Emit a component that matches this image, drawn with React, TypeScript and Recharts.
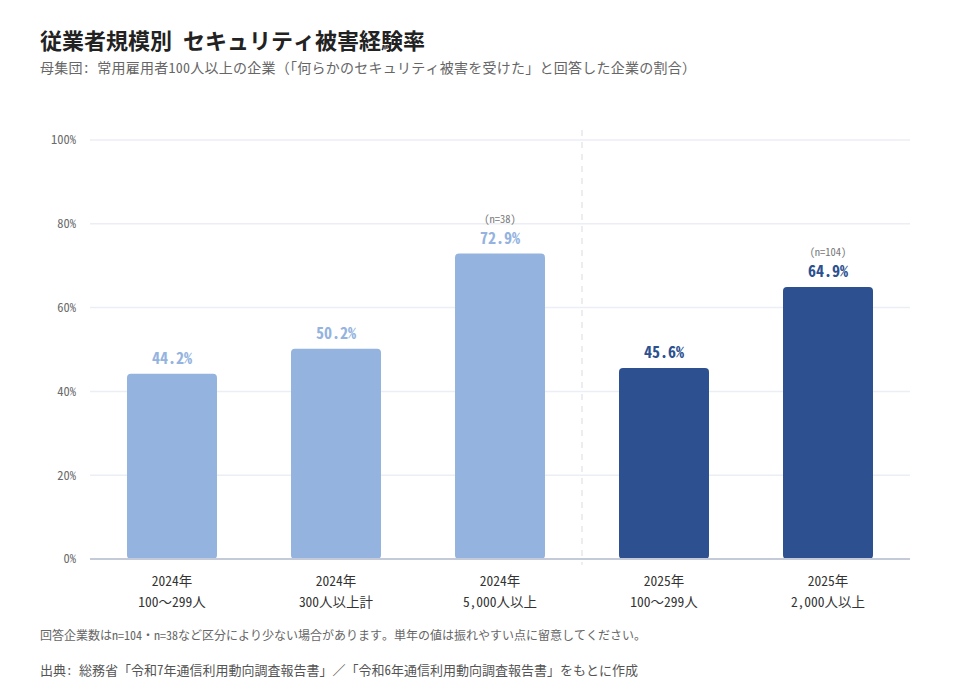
import { BarChart, Bar, Cell, XAxis, YAxis, CartesianGrid, ReferenceLine, LabelList } from "recharts";

const years = ["2024年", "2024年", "2024年", "2025年", "2025年"];
const groups = ["100～299人", "300人以上計", "5,000人以上", "100～299人", "2,000人以上"];
const rates = [44.2, 50.2, 72.9, 45.6, 64.9];
const sampleNotes = ["", "", "(n=38)", "", "(n=104)"];
const yTicks = [0, 20, 40, 60, 80, 100];

const YEAR_COLORS: Record<string, string> = {
  "2024年": "#94b3df",
  "2025年": "#2d5190",
};

const FONT = '"Noto Sans Mono CJK JP", "Noto Sans CJK JP", sans-serif';

const data = years.map((year, i) => ({
  key: `${year}|${groups[i]}`,
  year,
  group: groups[i],
  rate: rates[i],
  note: sampleNotes[i],
}));

const XTick = ({ x, y, payload }: any) => {
  const [year, group] = String(payload.value).split("|");
  return (
    <g transform={`translate(${x},${y})`}>
      <text x={0} y={0} dy={19} textAnchor="middle" fill="#333" fontSize={13.5} fontFamily={FONT}>
        {year}
      </text>
      <text x={0} y={0} dy={40} textAnchor="middle" fill="#333" fontSize={13.5} fontFamily={FONT}>
        {group}
      </text>
    </g>
  );
};

const BarLabel = (props: any) => {
  const { x, y, width, index } = props;
  const row = data[index];
  const cx = x + width / 2;
  const color = YEAR_COLORS[row.year];
  return (
    <g>
      {row.note && (
        <text x={cx} y={y - 31} textAnchor="middle" fill="#777" fontSize={10.5} fontFamily={FONT}>
          {row.note}
        </text>
      )}
      <text x={cx} y={y - 10} textAnchor="middle" fill={color} fontSize={16} fontWeight="bold" fontFamily={FONT}>
        {row.rate.toFixed(1)}%
      </text>
    </g>
  );
};

export default function App() {
  return (
    <div style={{ position: "relative", width: 980, height: 700, margin: -8, background: "#fff", fontFamily: FONT }}>
      <div style={{ position: "absolute", left: 40, top: 23, fontSize: 22, fontWeight: "bold", color: "#222", whiteSpace: "nowrap" }}>
        従業者規模別 セキュリティ被害経験率
      </div>
      <div style={{ position: "absolute", left: 40, top: 57, fontSize: 14, letterSpacing: 0.25, color: "#666", whiteSpace: "nowrap" }}>
        母集団: 常用雇用者100人以上の企業（「何らかのセキュリティ被害を受けた」と回答した企業の割合）
      </div>
      <div style={{ position: "absolute", left: 0, top: 0 }}>
        <BarChart width={980} height={700} data={data} margin={{ top: 140, right: 70, bottom: 91, left: 30 }} barSize={90}>
          <CartesianGrid vertical={false} stroke="#eceef5" strokeWidth={1.5} />
          <XAxis
            dataKey="key"
            tick={<XTick />}
            tickLine={false}
            axisLine={{ stroke: "#c5cad8", strokeWidth: 2 }}
            height={50}
            interval={0}
          />
          <YAxis
            domain={[0, 100]}
            ticks={yTicks}
            tickFormatter={(v) => `${v}%`}
            tick={{ fill: "#6b6b6b", fontSize: 12.5, fontFamily: FONT }}
            tickLine={false}
            axisLine={false}
            tickMargin={8}
            width={60}
          />
          <ReferenceLine
            segment={[
              { x: data[2].key, y: 102.4 },
              { x: data[2].key, y: -1.4 },
            ]}
            position="end"
            ifOverflow="visible"
            stroke="#e6e7ec"
            strokeWidth={1.5}
            strokeDasharray="6 6"
          />
          <Bar dataKey="rate" radius={4} isAnimationActive={false}>
            {data.map((row) => (
              <Cell key={row.key} fill={YEAR_COLORS[row.year]} />
            ))}
            <LabelList dataKey="rate" content={<BarLabel />} />
          </Bar>
        </BarChart>
      </div>
      <div style={{ position: "absolute", left: 40, top: 626, fontSize: 12, color: "#666", whiteSpace: "nowrap" }}>
        回答企業数はn=104・n=38など区分により少ない場合があります。単年の値は振れやすい点に留意してください。
      </div>
      <div style={{ position: "absolute", left: 40, top: 660, fontSize: 13, color: "#555", whiteSpace: "nowrap" }}>
        出典: 総務省「令和7年通信利用動向調査報告書」／「令和6年通信利用動向調査報告書」をもとに作成
      </div>
    </div>
  );
}
